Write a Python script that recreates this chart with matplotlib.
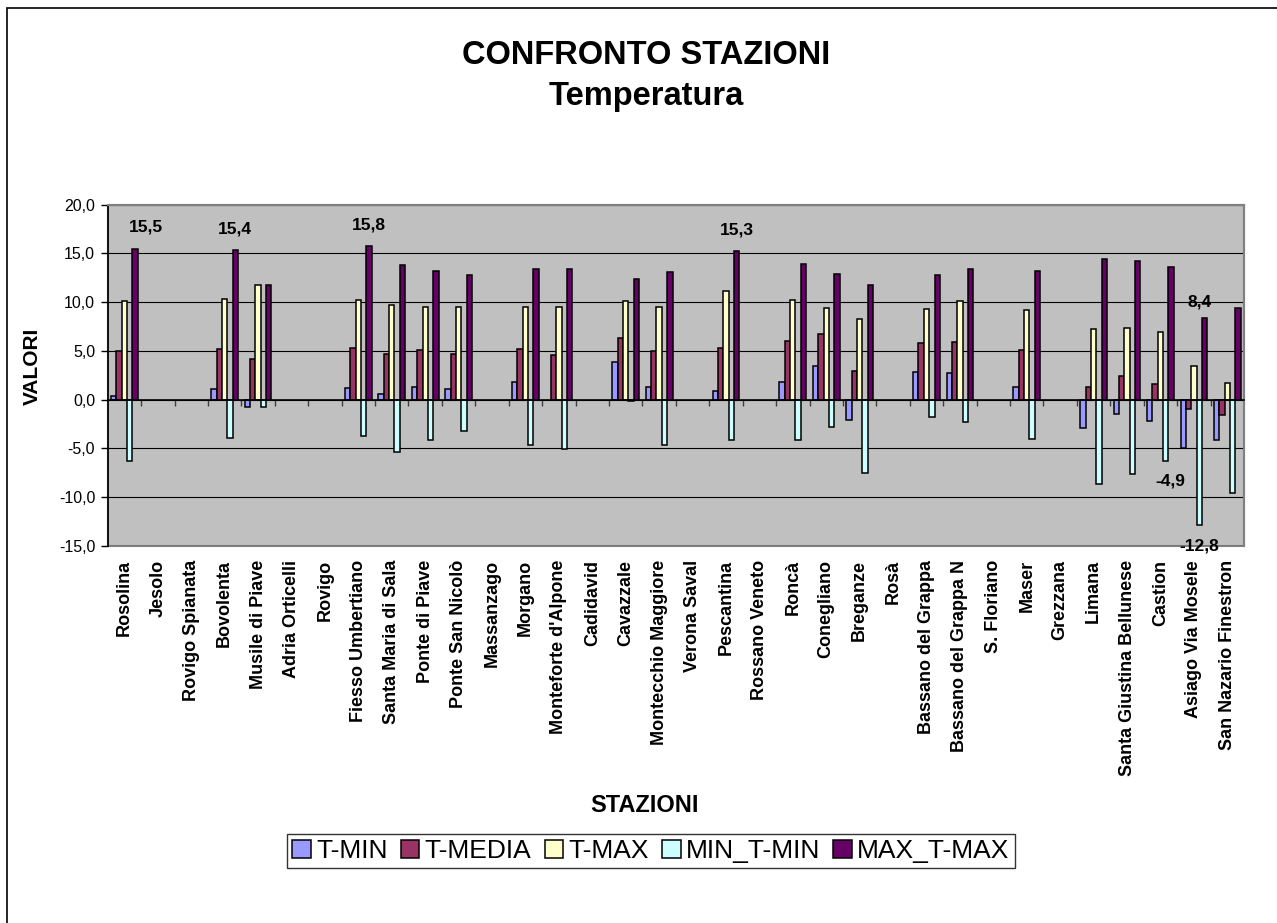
import numpy as np
import matplotlib
matplotlib.use('Agg')
import matplotlib.pyplot as plt
from matplotlib.patches import Rectangle
from matplotlib.ticker import FuncFormatter

plt.rcParams['font.family'] = ['Liberation Sans', 'DejaVu Sans']

nan = np.nan

stations = ['Rosolina', 'Jesolo', 'Rovigo Spianata', 'Bovolenta', 'Musile di Piave',
            'Adria Orticelli', 'Rovigo', 'Fiesso Umbertiano', 'Santa Maria di Sala',
            'Ponte di Piave', 'Ponte San Nicolò', 'Massanzago', 'Morgano',
            "Monteforte d'Alpone", 'Cadidavid', 'Cavazzale', 'Montecchio Maggiore',
            'Verona Saval', 'Pescantina', 'Rossano Veneto', 'Roncà', 'Conegliano',
            'Breganze', 'Rosà', 'Bassano del Grappa', 'Bassano del Grappa N',
            'S. Floriano', 'Maser', 'Grezzana', 'Limana', 'Santa Giustina Bellunese',
            'Castion', 'Asiago Via Mosele', 'San Nazario Finestron']

t_min = [0.4, nan, nan, 1.1, -0.7, nan, nan, 1.2, 0.6, 1.3, 1.1, nan, 1.8, nan, nan,
         3.9, 1.3, nan, 0.9, nan, 1.8, 3.5, -2.1, nan, 2.8, 2.7, nan, 1.3, nan,
         -2.9, -1.5, -2.2, -4.9, -4.1]
t_media = [5.0, nan, nan, 5.2, 4.2, nan, nan, 5.3, 4.7, 5.1, 4.7, nan, 5.2, 4.6, nan,
           6.3, 5.0, nan, 5.3, nan, 6.0, 6.7, 2.9, nan, 5.8, 5.9, nan, 5.1, nan,
           1.3, 2.4, 1.6, -0.9, -1.6]
t_max = [10.1, nan, nan, 10.3, 11.8, nan, nan, 10.2, 9.7, 9.5, 9.5, nan, 9.5, 9.5, nan,
         10.1, 9.5, nan, 11.1, nan, 10.2, 9.4, 8.3, nan, 9.3, 10.1, nan, 9.2, nan,
         7.3, 7.4, 6.9, 3.5, 1.7]
min_t_min = [-6.3, nan, nan, -3.9, -0.7, nan, nan, -3.7, -5.4, -4.1, -3.2, nan, -4.6, -5.1, nan,
             -0.1, -4.6, nan, -4.1, nan, -4.1, -2.8, -7.5, nan, -1.8, -2.3, nan, -4.0, nan,
             -8.6, -7.6, -6.3, -12.8, -9.6]
max_t_max = [15.5, nan, nan, 15.4, 11.8, nan, nan, 15.8, 13.8, 13.2, 12.8, nan, 13.4, 13.4, nan,
             12.4, 13.1, nan, 15.3, nan, 13.9, 12.9, 11.8, nan, 12.8, 13.4, nan, 13.2, nan,
             14.4, 14.2, 13.6, 8.4, 9.4]

series_names = ['T-MIN', 'T-MEDIA', 'T-MAX', 'MIN_T-MIN', 'MAX_T-MAX']
series_values = [t_min, t_media, t_max, min_t_min, max_t_max]
colors = ['#9999ff', '#993366', '#ffffcc', '#ccffff', '#660066']

# data labels shown in the chart: (series index, station, dx, dy)
labelled = [(4, 'Rosolina', 0.33, 2.2), (4, 'Bovolenta', 0.0, 2.1),
            (4, 'Fiesso Umbertiano', 0.0, 2.1), (4, 'Pescantina', 0.0, 2.1),
            (4, 'Asiago Via Mosele', -0.16, 1.6), (0, 'Asiago Via Mosele', -0.39, -3.4),
            (3, 'Asiago Via Mosele', 0.0, -2.2)]

fig = plt.figure(figsize=(12.77, 9.23), dpi=100)
ax = fig.add_axes([107.7 / 1277, 1 - 546 / 923, (1244 - 107.7) / 1277, (546 - 204.7) / 923])

x = np.arange(len(stations))
w = 0.16
for k, (name, vals) in enumerate(zip(series_names, series_values)):
    ax.bar(x + (k - 2) * w, vals, w, color=colors[k], edgecolor='black',
           linewidth=1.1, label=name, zorder=3)

for si, st, dx, dy in labelled:
    i = stations.index(st)
    v = series_values[si][i]
    ax.text(i + (si - 2) * w + dx, v + dy, ('%.1f' % v).replace('.', ','),
            ha='center', va='center', fontsize=12.5, fontweight='bold', zorder=5)

ax.set_xlim(-0.5, len(stations) - 0.5)
ax.set_ylim(-15, 20)
ax.set_facecolor('#c0c0c0')
ax.set_yticks(range(-15, 21, 5))
ax.yaxis.set_major_formatter(FuncFormatter(lambda v, p: ('%.1f' % v).replace('.', ',')))
ax.tick_params(axis='y', length=5, width=1, pad=4, labelsize=11.5)
ax.grid(axis='y', color='black', linewidth=0.8, zorder=1)
ax.set_axisbelow(True)

for s in ['top', 'right']:
    ax.spines[s].set_color('#808080')
    ax.spines[s].set_linewidth(1.5)
ax.spines['left'].set_color('black')
ax.spines['left'].set_linewidth(1.2)
ax.spines['bottom'].set_position(('data', 0))
ax.spines['bottom'].set_color('black')
ax.spines['bottom'].set_linewidth(1.2)
ax.spines['bottom'].set_zorder(4)
ax.set_xticks(np.arange(0.5, len(stations) - 0.5, 1))
ax.tick_params(axis='x', direction='out', length=4, width=1, color='#404040', labelbottom=False)
ax.add_patch(Rectangle((0, 0), 1, 1, transform=ax.transAxes, fill=False,
                       edgecolor='#808080', linewidth=1.5, zorder=0.5, clip_on=False))

sec = ax.secondary_xaxis(0.0)
sec.set_xticks(x, labels=stations)
sec.tick_params(length=0, pad=10)
for lbl in sec.get_xticklabels():
    lbl.set_rotation(90)
    lbl.set_fontweight('bold')
    lbl.set_fontsize(13)
sec.spines['bottom'].set_visible(False)

fig.text(646 / 1277, 1 - 55 / 923, 'CONFRONTO STAZIONI', ha='center', va='center',
         fontsize=23.5, fontweight='bold')
fig.text(646 / 1277, 1 - 97 / 923, 'Temperatura', ha='center', va='center',
         fontsize=23.5, fontweight='bold')
fig.text(32 / 1277, 1 - 366 / 923, 'VALORI', ha='center', va='center', rotation=90,
         fontsize=15, fontweight='bold')
fig.text(645 / 1277, 1 - 806 / 923, 'STAZIONI', ha='center', va='center',
         fontsize=17, fontweight='bold')

leg = ax.legend(loc='center', bbox_to_anchor=(651 / 1277, 1 - 851 / 923),
                bbox_transform=fig.transFigure, ncol=5, fontsize=19, frameon=True,
                fancybox=False, edgecolor='black', handlelength=0.7, handleheight=0.7,
                handletextpad=0.2, columnspacing=0.5, borderpad=0.2, borderaxespad=0)
leg.get_frame().set_linewidth(1.0)

fig.patches.append(Rectangle((7 / 1277, -0.1), 2, 1.1 - 8 / 923, transform=fig.transFigure,
                             fill=False, edgecolor='black', linewidth=1.2))

fig.savefig('out.png', dpi=100)
